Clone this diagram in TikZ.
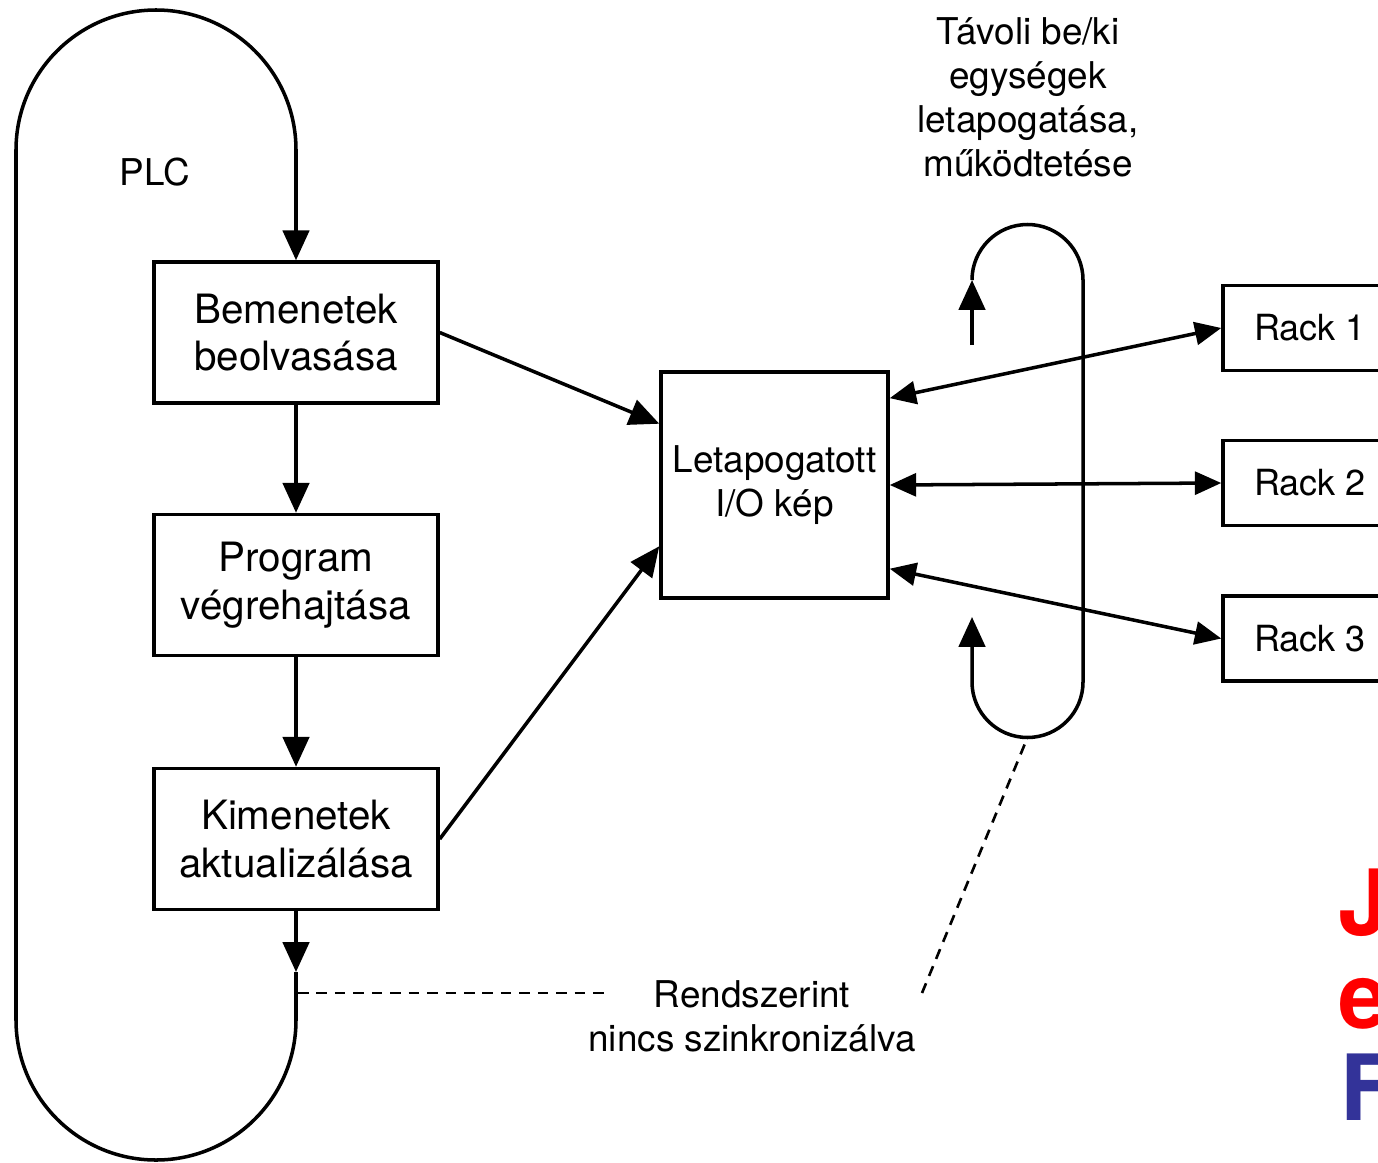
\documentclass[tikz,border=0pt]{standalone}
\usepackage{fontspec}
\setmainfont{TeX Gyre Heros}
\usetikzlibrary{arrows.meta}
\definecolor{jelkek}{RGB}{51,51,153}
\tikzset{
  blokk/.style = {
    rectangle, draw, line width=2pt,
    minimum width=5.68cm, minimum height=2.82cm,
    inner sep=0pt, align=center, font=\fontsize{23}{27}\selectfont,
  },
  kep/.style = {
    rectangle, draw, line width=2pt,
    minimum width=4.54cm, minimum height=4.52cm,
    inner sep=0pt, align=center, font=\fontsize{21}{25}\selectfont,
  },
  rack/.style = {
    rectangle, draw, line width=2pt,
    minimum width=3.48cm, minimum height=1.7cm,
    inner sep=0pt, font=\fontsize{20.5}{24}\selectfont,
  },
  felirat/.style = {align=center, inner sep=0pt, font=\fontsize{21}{25}\selectfont},
  betu/.style = {anchor=base west, inner sep=0pt, font=\fontsize{52}{52}\selectfont\bfseries},
  nyil/.style = {line width=2pt, -{Triangle[length=17pt,width=15pt]}},
  ketnyil/.style = {line width=2pt, {Triangle[length=15pt,width=13pt]}-{Triangle[length=15pt,width=13pt]}},
  szaggatott/.style = {line width=1.5pt, dash pattern=on 6pt off 4.5pt},
}

\begin{document}
\begin{tikzpicture}[x=0.02cm, y=0.02cm]
    \useasboundingbox (0,0) rectangle (1378,-1162);
    % --- Nodes ---
    \node[blokk] (bem)  at (296,-332.5) {Bemenetek\\beolvasása};
    \node[blokk] (prog) at (296,-585)   {Program\\végrehajtása};
    \node[blokk] (kim)  at (296,-839)   {Kimenetek\\aktualizálása};
    \node[kep]   (kep)  at (774.5,-485) {Letapogatott\\I/O kép};
    \node[rack]  (r1)   at (1310,-328)  {Rack 1};
    \node[rack]  (r2)   at (1310,-483)  {Rack 2};
    \node[rack]  (r3)   at (1310,-638.5) {Rack 3};

    \node[felirat] (plc)   at (155,-172) {PLC};
    \node[felirat] (tavol) at (1028,-97) {Távoli be/ki\\egységek\\letapogatása,\\működtetése};
    \node[felirat] (szink) at (752,-1016) {Rendszerint\\nincs szinkronizálva};

    \node[betu, text=red]    (b1) at (1338,-935)  {J};
    \node[betu, text=red]    (b2) at (1338,-1028) {e};
    \node[betu, text=jelkek] (b3) at (1340,-1120) {F};

    % --- Arrows ---
    \draw[nyil] (bem) -- (prog);
    \draw[nyil] (prog) -- (kim);
    \draw[nyil] (bem.east) -- (kep.152);
    \draw[nyil] (kim.east) -- (kep.208);
    \draw[ketnyil] (kep.37.5) -- (r1.west);
    \draw[ketnyil] (kep.east) -- (r2.west);
    \draw[ketnyil] (kep.-36.8) -- (r3.west);

    % PLC ciklus
    \coordinate (kimle) at (296,-972);
    \draw[nyil] (kim.south) -- (kimle);
    \draw[nyil] (kimle) -- (296,-1020) arc[start angle=0, end angle=-180, radius=140]
        -- (16,-150) arc[start angle=180, end angle=0, radius=140] -- (bem.north);

    % tavoli be/ki ciklus
    \coordinate (hurokA) at (972,-345);
    \coordinate (hurokB) at (972,-280);
    \coordinate (hurokC) at (972,-617);
    \coordinate (hurokalj) at (1027.5,-737.5);
    \draw[nyil] (hurokA) -- (hurokB);
    \draw[nyil] (hurokB) arc[start angle=180, end angle=0, radius=55.5]
        -- (1083,-682) arc[start angle=0, end angle=-180, radius=55.5] -- (hurokC);

    % nincs szinkronizalva
    \coordinate (plcpont) at (298,-993);
    \coordinate (sz1) at (610,-993);
    \coordinate (sz2) at (922,-993);
    \draw[szaggatott] (plcpont) -- (sz1);
    \draw[szaggatott] (sz2) -- (hurokalj);
\end{tikzpicture}
\end{document}
